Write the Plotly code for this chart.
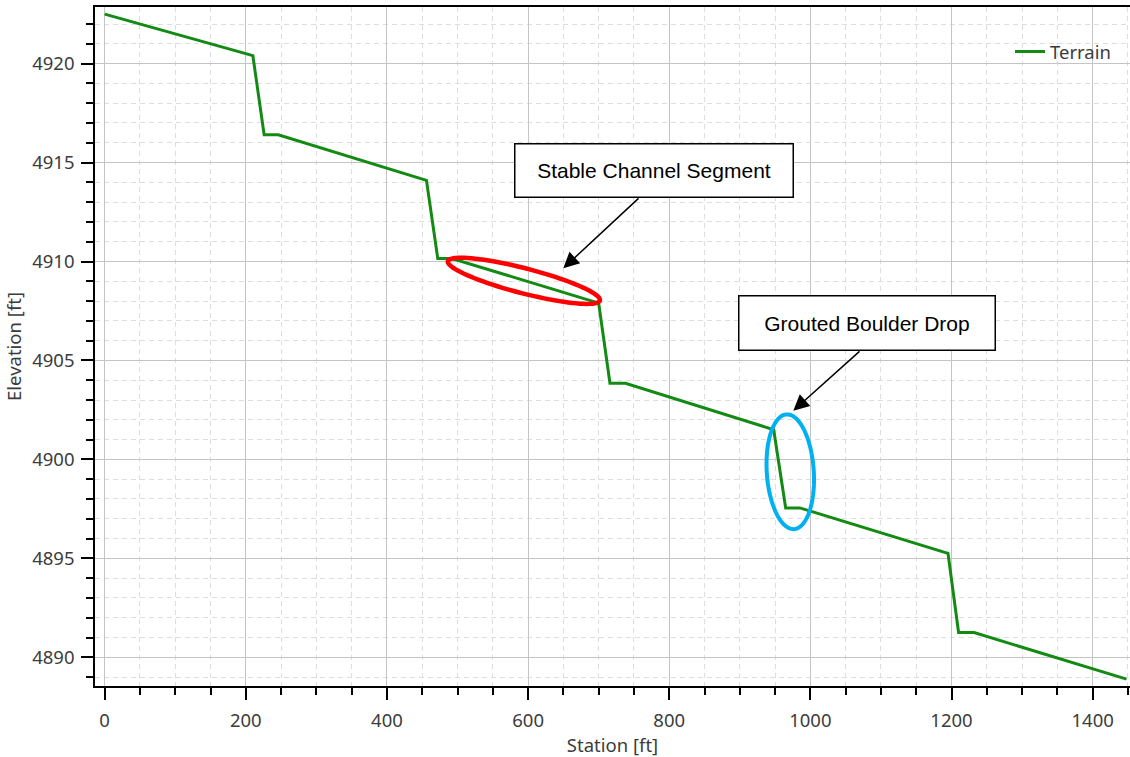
import numpy as np
import plotly.graph_objects as go

# Terrain profile (station vs. elevation)
station_ft = [0, 210, 226, 246, 456, 472, 492, 700, 716, 738, 948, 965, 985, 1195, 1210, 1232, 1448]
elevation_ft = [4922.5, 4920.4, 4916.4, 4916.4, 4914.1, 4910.15, 4910.15, 4907.9, 4903.85, 4903.85,
                4901.5, 4897.55, 4897.55, 4895.25, 4891.25, 4891.25, 4888.9]

series_name = "Terrain"
x_title = "Station [ft]"
y_title = "Elevation [ft]"
callout_texts = ["Stable Channel Segment", "Grouted Boulder Drop"]

W, H = 1130, 757
M_L, M_R, M_T, M_B = 95, 0, 7, 71
X_RANGE = [-13.7, 1452.9]
Y_RANGE = [4888.55, 4922.86]

TICK_FONT = dict(family="Noto Sans, Open Sans, sans-serif", size=18.5, color="#3c3c3c")


def ellipse_path(a, b, deg, n=90):
    """Closed SVG path of an ellipse (pixel units, y up) rotated by deg."""
    t = np.radians(deg)
    phi = np.linspace(0, 2 * np.pi, n, endpoint=False)
    xs = a * np.cos(phi) * np.cos(t) - b * np.sin(phi) * np.sin(t)
    ys = a * np.cos(phi) * np.sin(t) + b * np.sin(phi) * np.cos(t)
    pts = [f"{x:.2f},{y:.2f}" for x, y in zip(xs, ys)]
    return "M " + " L ".join(pts) + " Z"


def px_to_paper(px, py):
    pw = W - M_L - M_R
    ph = H - M_T - M_B
    return (px - M_L) / pw, 1 - (py - M_T) / ph


fig = go.Figure()
fig.add_trace(go.Scatter(
    x=station_ft, y=elevation_ft, mode="lines", name=series_name,
    line=dict(color="#138a13", width=3),
))

# Highlight ellipses around the features, centred on the profile
stable_cx = (station_ft[6] + station_ft[7]) / 2 - 2
stable_cy = (elevation_ft[6] + elevation_ft[7]) / 2
drop_cx = (station_ft[10] + station_ft[11]) / 2 + 15
drop_cy = (elevation_ft[10] + elevation_ft[11]) / 2 - 0.15

fig.add_shape(type="path", xref="x", yref="y", xsizemode="pixel", ysizemode="pixel",
              xanchor=stable_cx, yanchor=stable_cy,
              path=ellipse_path(78.5, 12.5, -14.5),
              line=dict(color="#ff0000", width=4.5))
fig.add_shape(type="path", xref="x", yref="y", xsizemode="pixel", ysizemode="pixel",
              xanchor=drop_cx, yanchor=drop_cy,
              path=ellipse_path(57.5, 23.5, 93.8),
              line=dict(color="#00b0f0", width=4))

# Callout boxes
box_font = dict(family="Liberation Sans, Arial, sans-serif", size=21, color="#000000")
for text, (cx, cy), (bw, bh) in [
    (callout_texts[0], (653.8, 170.3), (277, 52)),
    (callout_texts[1], (867.0, 322.5), (255, 53)),
]:
    px, py = px_to_paper(cx, cy)
    fig.add_annotation(xref="paper", yref="paper", x=px, y=py, text=text, showarrow=False,
                       font=box_font, width=bw, height=bh, borderpad=0,
                       bordercolor="#000000", borderwidth=1.5, bgcolor="#ffffff",
                       xanchor="center", yanchor="middle")

# Arrows from the boxes to the ellipses
for (tx, ty), (hx, hy) in [((640, 197), (563.3, 268.3)), ((861, 350), (793.3, 410.7))]:
    px, py = px_to_paper(hx, hy)
    fig.add_annotation(xref="paper", yref="paper", x=px, y=py, text="",
                       showarrow=True, ax=tx - hx, ay=ty - hy,
                       arrowhead=2, arrowsize=2.1, arrowwidth=1.5, arrowcolor="#000000",
                       standoff=0, startstandoff=0)

grid_major = "#c4c4c4"
grid_minor = "#dedede"

fig.update_xaxes(
    range=X_RANGE, dtick=200, tick0=0,
    showline=True, linecolor="#000000", linewidth=1.5, mirror=True,
    ticks="outside", ticklen=12, tickwidth=1.5, tickcolor="#000000",
    showgrid=True, gridcolor=grid_major, gridwidth=1,
    minor=dict(dtick=50, tick0=0, ticks="outside", ticklen=7, tickwidth=1.5, tickcolor="#000000",
               showgrid=True, gridcolor=grid_minor, griddash="5px,4px", gridwidth=1),
    zeroline=False, tickfont=TICK_FONT, ticklabelstandoff=5,
    title=dict(text=x_title, font=TICK_FONT, standoff=6),
)
fig.update_yaxes(
    range=Y_RANGE, dtick=5, tick0=4890,
    showline=True, linecolor="#000000", linewidth=1.5, mirror=False,
    ticks="outside", ticklen=12, tickwidth=1.5, tickcolor="#000000",
    showgrid=True, gridcolor=grid_major, gridwidth=1,
    minor=dict(dtick=1, tick0=4890, ticks="outside", ticklen=7, tickwidth=1.5, tickcolor="#000000",
               showgrid=True, gridcolor=grid_minor, griddash="5px,4px", gridwidth=1),
    zeroline=False, tickfont=TICK_FONT, ticklabelstandoff=3,
    title=dict(text=y_title, font=TICK_FONT, standoff=6),
)

lx, ly = px_to_paper(1010, 33)
fig.update_layout(
    width=W, height=H,
    margin=dict(l=M_L, r=M_R, t=M_T, b=M_B, autoexpand=False),
    paper_bgcolor="#ffffff", plot_bgcolor="#ffffff",
    showlegend=True,
    legend=dict(x=lx, y=ly, xanchor="left", yanchor="top", bgcolor="rgba(0,0,0,0)",
                font=TICK_FONT),
)

fig.write_html("out.html")
